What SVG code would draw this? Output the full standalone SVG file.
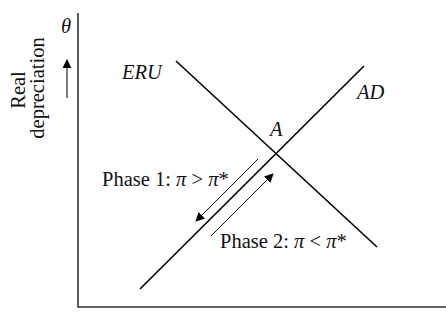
<svg xmlns="http://www.w3.org/2000/svg" width="446" height="328" viewBox="0 0 446 328">
<style>
.t{font-family:"Liberation Serif","DejaVu Serif",serif;font-size:20.5px;fill:#111}
.i{font-style:italic}
.ax{stroke:#333;stroke-width:1.6;fill:none}
.cv{stroke:#000;stroke-width:1.6;fill:none}
.ar{stroke:#000;stroke-width:1;fill:none}
</style>
<defs>
<marker id="ah" viewBox="0 0 10 10" refX="9" refY="5" markerWidth="9" markerHeight="9" markerUnits="userSpaceOnUse" orient="auto">
<path d="M0,0 L10,5 L0,10 z" fill="#000"/>
</marker>
</defs>
<g id="axes">
<path class="ax" d="M78,13 V307 H446"/>
</g>
<g id="ylabel">
<text class="t" transform="translate(25,90) rotate(-90)" text-anchor="middle">Real</text>
<text class="t" transform="translate(44,88) rotate(-90)" text-anchor="middle">depreciation</text>
<line class="ar" x1="67" y1="98" x2="67" y2="60" marker-end="url(#ah)"/>
<text class="t i" x="61" y="33">θ</text>
</g>
<g id="ERU">
<line class="cv" x1="176" y1="61" x2="377" y2="247"/>
<text class="t i" x="122" y="79">ERU</text>
</g>
<g id="AD">
<line class="cv" x1="140" y1="289" x2="364" y2="66"/>
<text class="t i" x="357" y="99">AD</text>
</g>
<g id="A">
<text class="t i" x="270" y="136">A</text>
</g>
<g id="connectors">
<line class="ar" x1="258" y1="159" x2="196" y2="221" marker-end="url(#ah)"/>
<line class="ar" x1="211" y1="236" x2="273" y2="174" marker-end="url(#ah)"/>
</g>
<g id="phase1">
<text class="t" x="102" y="186">Phase 1: <tspan class="i">π</tspan> &gt; <tspan class="i">π</tspan>*</text>
</g>
<g id="phase2">
<text class="t" x="220" y="248">Phase 2: <tspan class="i">π</tspan> &lt; <tspan class="i">π</tspan>*</text>
</g>
</svg>
